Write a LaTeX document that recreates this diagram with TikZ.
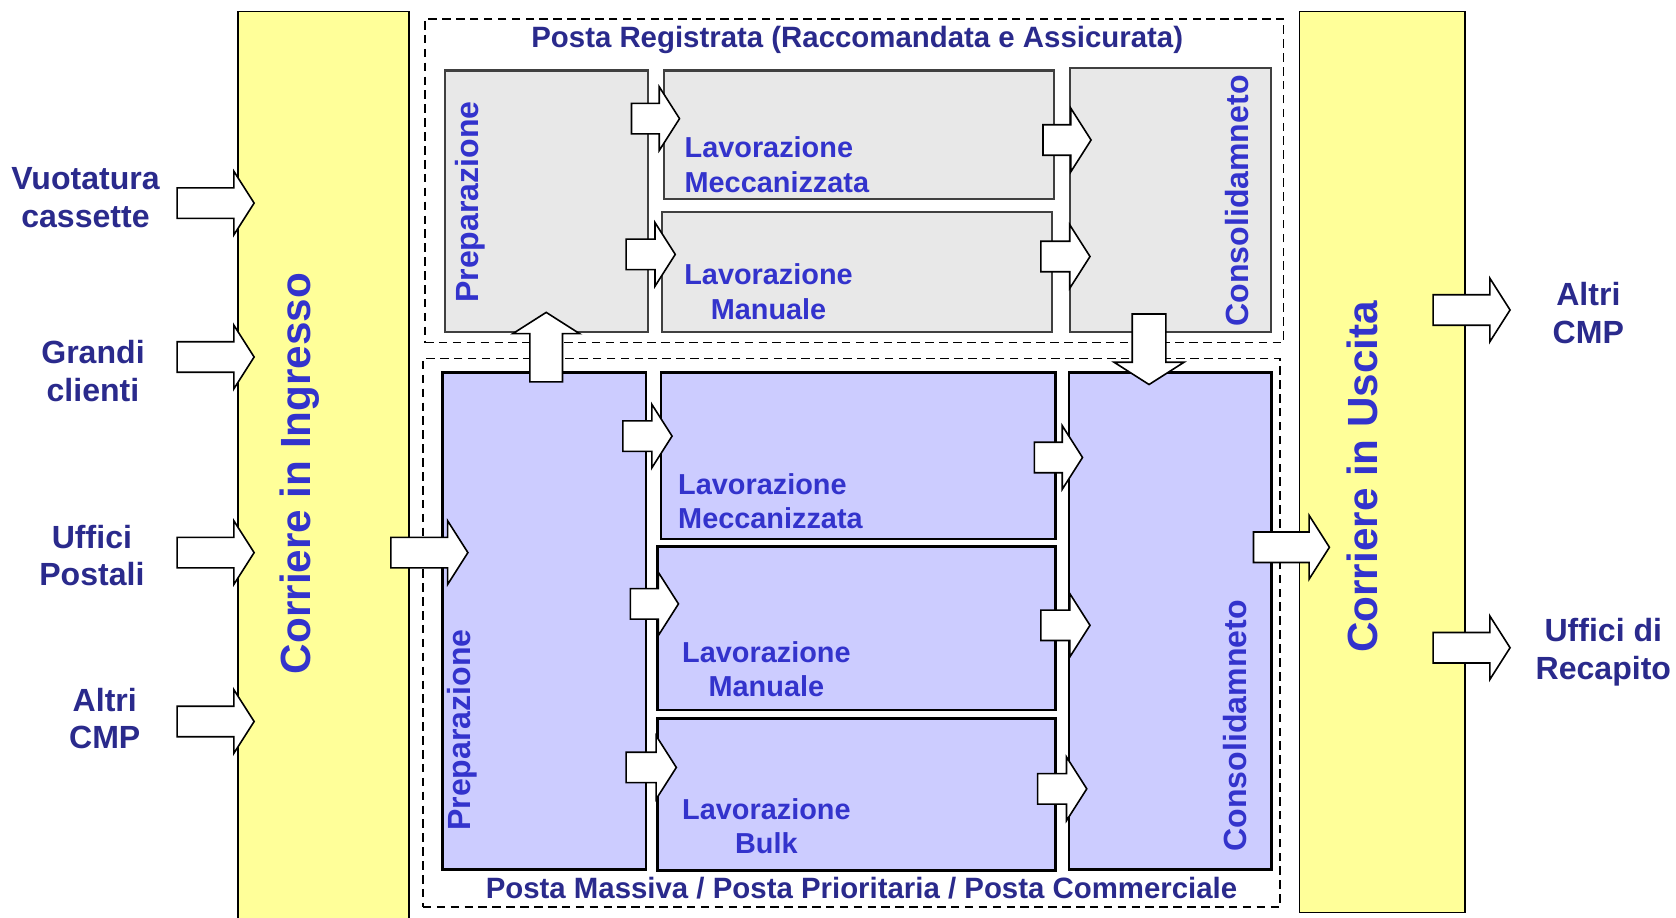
\documentclass[tikz,border=0pt]{standalone}
\usepackage{fontspec}
\setmainfont{Liberation Sans}
\usetikzlibrary{shapes.arrows}

\definecolor{scuro}{RGB}{42,42,140}
\definecolor{chiaro}{RGB}{51,51,204}
\definecolor{giallo}{RGB}{255,255,153}
\definecolor{grigio}{RGB}{232,232,232}
\definecolor{lilla}{RGB}{204,204,255}

\begin{document}
\begin{tikzpicture}[x=1pt,y=-1pt,
    corriere/.style={draw,line width=1.5pt,fill=giallo,anchor=north west,inner sep=0pt},
    gruppo/.style={draw,line width=1.3pt,dash pattern=on 8pt off 5pt,anchor=north west,inner sep=0pt},
    registrata/.style={draw=black!75,line width=2pt,fill=grigio,anchor=north west,inner sep=0pt},
    massiva/.style={draw,line width=2.5pt,fill=lilla,anchor=north west,inner sep=0pt},
    freccia/.style={single arrow,draw,fill=white,line width=1.5pt,inner sep=0pt,inner ysep=13.5pt,
      single arrow head extend=15.5pt,single arrow tip angle=115,minimum height=72pt,anchor=tail},
    fonte/.style={font=\bfseries\fontsize{30}{35}\selectfont,text=scuro,align=center},
    titolo/.style={font=\bfseries\fontsize{27.5}{33}\selectfont,text=scuro},
    fase/.style={font=\bfseries\fontsize{27}{32.5}\selectfont,text=chiaro},
    verticale/.style={font=\bfseries\fontsize{30}{36}\selectfont,text=chiaro,rotate=90},
    trasporto/.style={font=\bfseries\fontsize{39.5}{44}\selectfont,text=chiaro,rotate=90}]

  \useasboundingbox (0,0) rectangle (1568,858);

  \node[corriere,minimum width=160pt,minimum height=860pt] (ingresso) at (222,10) {};
  \node[corriere,minimum width=155pt,minimum height=843pt] (uscita) at (1215,10) {};

  \node[gruppo,minimum width=803pt,minimum height=303pt] (reg) at (397,17) {};
  \node[gruppo,minimum width=802pt,minimum height=513pt] (mas) at (395,335) {};

  \node[registrata,minimum width=190pt,minimum height=245pt] (prepR) at (415,65) {};
  \node[registrata,minimum width=365pt,minimum height=120pt] (meccR) at (620,65) {};
  \node[registrata,minimum width=365pt,minimum height=113pt] (manR) at (618,197) {};
  \node[registrata,minimum width=188pt,minimum height=247pt] (consR) at (1000,63) {};

  \node[massiva,minimum width=190pt,minimum height=465pt] (prepM) at (413,347) {};
  \node[massiva,minimum width=369pt,minimum height=156pt] (meccM) at (617,347) {};
  \node[massiva,minimum width=372pt,minimum height=153pt] (manM) at (614,510) {};
  \node[massiva,minimum width=372pt,minimum height=142pt] (bulkM) at (614,671) {};
  \node[massiva,minimum width=189pt,minimum height=465pt] (consM) at (999,347) {};

  \node[freccia] (inVuot) at (165,190) {};
  \node[freccia] (inGrandi) at (165,334) {};
  \node[freccia] (inUffici) at (165,517) {};
  \node[freccia] (inAltri) at (165,675) {};
  \node[freccia] (inPrep) at (365,517) {};

  \node[freccia,minimum height=45pt] (rMecc) at (590,111) {};
  \node[freccia,minimum height=46pt] (rMan) at (585,238) {};
  \node[freccia,minimum height=45pt] (rMeccCons) at (975,131) {};
  \node[freccia,minimum height=46pt] (rManCons) at (973,240) {};

  \node[freccia,minimum height=46pt] (mMecc) at (582,408) {};
  \node[freccia,minimum height=45pt] (mMan) at (589,565) {};
  \node[freccia,minimum height=47pt] (mBulk) at (585,718) {};
  \node[freccia,minimum height=45pt] (mMeccCons) at (967,428) {};
  \node[freccia,minimum height=46pt] (mManCons) at (973,585) {};
  \node[freccia,minimum height=46pt] (mBulkCons) at (970,738) {};
  \node[freccia,minimum height=71pt] (outCons) at (1172,512) {};

  \node[freccia,rotate=90,inner ysep=14.5pt,single arrow head extend=16pt,minimum height=65pt] (suPrep) at (511,358) {};
  \node[freccia,rotate=-90,inner ysep=15pt,single arrow head extend=17pt,minimum height=66pt] (giuCons) at (1075,293) {};

  \node[freccia] (outAltri) at (1340,290) {};
  \node[freccia] (outUffici) at (1340,606) {};

  \node[fonte] (vuotatura) at (80,185) {Vuotatura\\cassette};
  \node[fonte] (grandi) at (87,347) {Grandi\\clienti};
  \node[fonte] (uffici) at (86,520) {Uffici\\Postali};
  \node[fonte] (altriIn) at (98,672) {Altri\\CMP};
  \node[fonte] (altriOut) at (1486,293) {Altri\\CMP};
  \node[fonte] (recapito) at (1500,610) {Uffici di\\Recapito};

  \node[trasporto] (tIngresso) at (280,443) {Corriere in Ingresso};
  \node[trasporto] (tUscita) at (1275,446) {Corriere in Uscita};

  \node[titolo] (tReg) at (802,37) {Posta Registrata (Raccomandata e Assicurata)};
  \node[titolo] (tMas) at (806,831) {Posta Massiva / Posta Prioritaria / Posta Commerciale};

  \node[verticale] (tPrepR) at (440,189) {Preparazione};
  \node[verticale] (tConsR) at (1157,188) {Consolidamneto};
  \node[verticale] (tPrepM) at (432,683) {Preparazione};
  \node[verticale] (tConsM) at (1155,679) {Consolidamneto};

  \node[fase,anchor=west,align=left] (tMeccR) at (637,154) {Lavorazione\\Meccanizzata};
  \node[fase,align=center] (tManR) at (719,273) {Lavorazione\\Manuale};
  \node[fase,anchor=west,align=left] (tMeccM) at (631,469) {Lavorazione\\Meccanizzata};
  \node[fase,align=center] (tManM) at (717,626) {Lavorazione\\Manuale};
  \node[fase,align=center] (tBulkM) at (717,773) {Lavorazione\\Bulk};
\end{tikzpicture}
\end{document}
